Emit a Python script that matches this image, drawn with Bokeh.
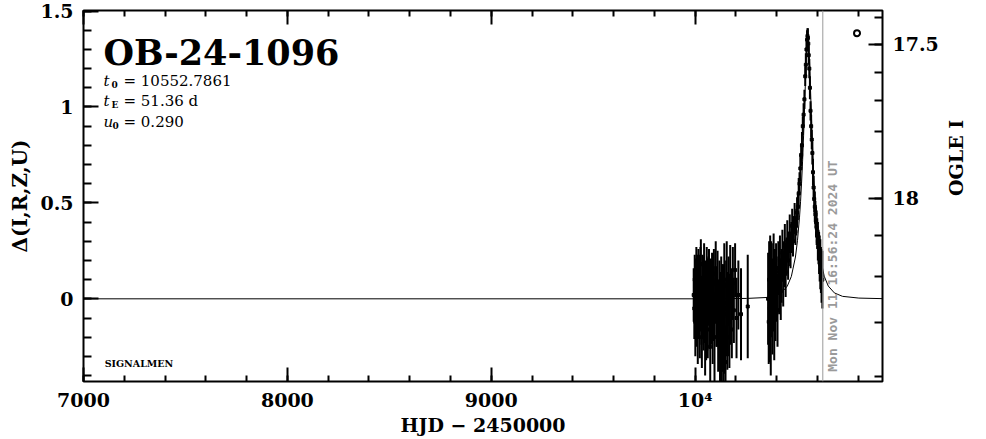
import math
from bokeh.plotting import figure
from bokeh.models import (ColumnDataSource, LinearAxis, FixedTicker, Label, Span,
                          Range1d, CustomJSTickFormatter)
from bokeh.embed import file_html
from bokeh.resources import INLINE

# ---------------- texts printed on the chart ----------------
EVENT = "OB-24-1096"
T0_TEXT = "10552.7861"
TE_TEXT = "51.36  d"
U0_TEXT = "0.290"
NOW_TEXT = "Mon Nov 11 16:56:24 2024 UT"
NOW_HJD = 10626.21
CREDIT = "SIGNALMEN"
X_TITLE = "HJD \u2212 2450000"
Y_TITLE = "\u0394(I,R,Z,U)"
R_TITLE = "OGLE I"

# ---------------- photometry (HJD-2450000, delta, error) ----------------
# season 2023
t1 = [9993, 9996, 9998, 10001, 10003, 10006, 10008, 10011, 10013, 10016,
      10018, 10021, 10023, 10026, 10028, 10031, 10033, 10036, 10039, 10041,
      10044, 10046, 10049, 10052, 10054, 10057, 10060, 10062, 10065, 10068,
      10071, 10074, 10077, 10080, 10083, 10086, 10089, 10092, 10095, 10098,
      10101, 10104, 10107, 10110, 10113, 10116, 10119, 10122, 10125, 10128,
      10131, 10134, 10137, 10140, 10143, 10146, 10149, 10152, 10155, 10158,
      10161, 10164, 10168, 10172, 10176, 10180, 10185, 10190, 10196, 10203,
      10212, 10225, 10258]
d1 = [0.02, -0.05, 0.10, -0.12, 0.06, 0.15, -0.08, 0.03, -0.18, 0.12,
      -0.02, 0.08, -0.14, 0.05, 0.18, -0.06, -0.20, 0.09, 0.01, -0.10,
      0.14, -0.04, -0.22, 0.07, -0.12, 0.11, -0.03, -0.16, 0.04, 0.12,
      -0.09, -0.25, 0.06, -0.02, 0.10, -0.15, -0.06, 0.08, -0.20, 0.02,
      0.13, -0.11, -0.04, 0.09, -0.18, -0.08, 0.05, -0.24, -0.12, 0.03,
      -0.30, -0.10, -0.02, -0.26, 0.07, -0.15, -0.33, -0.05, 0.10, -0.20,
      -0.08, 0.04, -0.12, 0.12, -0.04, -0.16, 0.08, -0.06, 0.15, -0.10,
      0.02, -0.08, -0.04]
e1 = [0.14, 0.16, 0.13, 0.18, 0.15, 0.12, 0.17, 0.20, 0.16, 0.14,
      0.19, 0.15, 0.17, 0.22, 0.13, 0.18, 0.16, 0.14, 0.21, 0.17,
      0.15, 0.19, 0.18, 0.13, 0.20, 0.16, 0.24, 0.15, 0.18, 0.14,
      0.17, 0.20, 0.15, 0.22, 0.14, 0.19, 0.16, 0.18, 0.23, 0.15,
      0.17, 0.14, 0.21, 0.16, 0.20, 0.18, 0.15, 0.22, 0.26, 0.19,
      0.16, 0.28, 0.20, 0.17, 0.22, 0.24, 0.18, 0.25, 0.20, 0.17,
      0.22, 0.18, 0.24, 0.16, 0.20, 0.15, 0.19, 0.17, 0.14, 0.21,
      0.18, 0.24, 0.27]

# season 2024, baseline and rise
t2 = [10358, 10361, 10363, 10366, 10368, 10371, 10373, 10376, 10379, 10382,
      10385, 10388, 10391, 10394, 10397, 10400, 10404, 10408, 10412, 10416,
      10420, 10424, 10428, 10432, 10436, 10440, 10444, 10448, 10452, 10456,
      10460, 10464, 10468, 10472, 10476, 10480, 10484, 10488, 10492, 10496]
d2 = [0.00, -0.12, 0.10, -0.05, 0.15, -0.18, 0.05, 0.12, -0.08, 0.02,
      0.18, -0.10, 0.08, -0.02, 0.14, 0.05, -0.06, 0.16, 0.08, 0.20,
      0.04, 0.12, 0.24, 0.10, 0.18, 0.28, 0.14, 0.22, 0.30, 0.20,
      0.26, 0.34, 0.25, 0.32, 0.38, 0.30, 0.36, 0.42, 0.35, 0.40]
e2 = [0.24, 0.22, 0.20, 0.28, 0.18, 0.22, 0.25, 0.17, 0.21, 0.19,
      0.16, 0.22, 0.18, 0.20, 0.15, 0.17, 0.19, 0.14, 0.16, 0.13,
      0.15, 0.14, 0.12, 0.14, 0.12, 0.11, 0.13, 0.10, 0.11, 0.10,
      0.09, 0.10, 0.09, 0.08, 0.09, 0.08, 0.07, 0.08, 0.07, 0.07]

# season 2024, peak and decline
t3 = [10500, 10504, 10508, 10512, 10516, 10520, 10524, 10528, 10532, 10536,
      10540, 10543, 10546, 10549, 10551, 10553, 10555, 10557, 10560, 10563,
      10566, 10569, 10572, 10575, 10578, 10581, 10584, 10587, 10590, 10593,
      10596, 10599, 10602, 10605, 10608, 10611, 10614, 10617, 10620, 10624]
d3 = [0.45, 0.48, 0.55, 0.60, 0.68, 0.75, 0.80, 0.90, 0.96, 1.04,
      1.16, 1.22, 1.30, 1.35, 1.37, 1.36, 1.33, 1.27, 1.20, 1.10,
      0.98, 0.90, 0.83, 0.76, 0.66, 0.58, 0.52, 0.48, 0.44, 0.40,
      0.37, 0.34, 0.30, 0.27, 0.24, 0.21, 0.18, 0.15, 0.12, 0.10]
e3 = [0.08, 0.07, 0.08, 0.06, 0.07, 0.06, 0.07, 0.05, 0.06, 0.05,
      0.05, 0.06, 0.04, 0.05, 0.04, 0.05, 0.04, 0.05, 0.05, 0.06,
      0.05, 0.06, 0.05, 0.06, 0.07, 0.06, 0.07, 0.08, 0.07, 0.08,
      0.09, 0.08, 0.10, 0.09, 0.11, 0.12, 0.13, 0.12, 0.14, 0.15]

# ---------------- model light curve ----------------
model_hjd = [7000, 10000, 10252, 10352, 10402, 10422, 10452, 10472, 10492, 10502,
             10512, 10517, 10522, 10527, 10532, 10537, 10542, 10547, 10552.8, 10558,
             10563, 10568, 10573, 10578, 10583, 10588, 10593, 10603, 10613, 10633,
             10653, 10683, 10723, 10803, 10919]
model_delta = [0.0, 0.0, 0.002, 0.007, 0.019, 0.030, 0.066, 0.117, 0.218, 0.303,
               0.426, 0.506, 0.603, 0.718, 0.852, 1.005, 1.164, 1.302, 1.378, 1.318,
               1.184, 1.024, 0.869, 0.732, 0.615, 0.516, 0.435, 0.309, 0.221, 0.118,
               0.0665, 0.0308, 0.0129, 0.0038, 0.0009]

# OGLE symbol in the corner
sym_hjd = [10794]
sym_delta = [1.385]

# ---------------- axes ----------------
x_major = [7000, 8000, 9000, 10000]
x_labels = {10000: "10\u2074"}
y_major = [0, 0.5, 1, 1.5]
ogle_major = [17.5, 18.0]
ogle_labels = ["17.5", "18"]
ogle_minor = [17.4, 17.5, 17.6, 17.7, 17.8, 17.9, 18.0, 18.1, 18.2, 18.3, 18.4]
I_BASE = 18.25
F_SOURCE = 0.416


def delta_of_mag(m):
    flux = 10 ** (-0.4 * (m - I_BASE))
    return 2.5 * math.log10(1 + (flux - 1) / F_SOURCE)


hjd = t1 + t2 + t3
dlt = d1 + d2 + d3
err = e1 + e2 + e3
src = ColumnDataSource(dict(
    t=hjd, d=dlt,
    lo=[a - b for a, b in zip(dlt, err)],
    hi=[a + b for a, b in zip(dlt, err)],
))

SERIF = "DejaVu Serif"

p = figure(width=986, height=439,
           x_range=Range1d(7000, 10919), y_range=Range1d(-0.431, 1.503),
           output_backend="svg", toolbar_location=None,
           min_border_left=83, min_border_right=104,
           min_border_top=10, min_border_bottom=58,
           background_fill_color="white", border_fill_color="white")
p.grid.visible = False
p.outline_line_color = "black"
p.outline_line_width = 2


def style_axis(ax, major_in, minor_in):
    ax.axis_line_color = None
    ax.major_tick_in = major_in
    ax.major_tick_out = 0
    ax.minor_tick_in = minor_in
    ax.minor_tick_out = 0
    ax.major_tick_line_width = 2
    ax.minor_tick_line_width = 2
    ax.major_tick_line_color = "black"
    ax.minor_tick_line_color = "black"
    ax.major_label_text_font = SERIF
    ax.major_label_text_font_style = "bold"
    ax.major_label_text_font_size = "19px"
    ax.major_label_text_color = "black"
    ax.axis_label_text_font = SERIF
    ax.axis_label_text_font_style = "bold"
    ax.axis_label_text_font_size = "19px"
    ax.axis_label_text_color = "black"


x_minor = list(range(7000, 10920, 200))
y_minor = [round(-0.4 + 0.1 * i, 1) for i in range(20)]

xb = p.xaxis[0]
xb.ticker = FixedTicker(ticks=x_major, minor_ticks=x_minor)
xb.major_label_overrides = x_labels
xb.axis_label = X_TITLE
style_axis(xb, 14, 6)
xb.major_label_standoff = 7
xb.axis_label_standoff = 0

yl = p.yaxis[0]
yl.ticker = FixedTicker(ticks=y_major, minor_ticks=y_minor)
yl.formatter = CustomJSTickFormatter(code="return String(Math.round(tick * 10) / 10);")
yl.axis_label = Y_TITLE
style_axis(yl, 15, 8)
yl.axis_label_text_font_size = "20px"
yl.major_label_standoff = 10
yl.axis_label_standoff = 5

xt = LinearAxis(ticker=FixedTicker(ticks=x_major, minor_ticks=x_minor),
                formatter=CustomJSTickFormatter(code="return '';"))
style_axis(xt, 14, 6)
xt.major_label_standoff = 0
xt.major_label_text_font_size = "1px"
p.add_layout(xt, "above")

major_pos = [delta_of_mag(m) for m in ogle_major]
minor_pos = [delta_of_mag(m) for m in ogle_minor]
yr = LinearAxis(ticker=FixedTicker(ticks=major_pos, minor_ticks=minor_pos),
                formatter=CustomJSTickFormatter(args=dict(pos=major_pos, labs=ogle_labels), code="""
let k = 0;
for (let i = 0; i < pos.length; i++) {
  if (Math.abs(pos[i] - tick) < Math.abs(pos[k] - tick)) { k = i; }
}
return labs[k];
"""))
yr.axis_label = R_TITLE
style_axis(yr, 14, 8)
yr.major_label_standoff = 10
yr.axis_label_standoff = 14
yr.axis_label_orientation = math.pi / 2
p.add_layout(yr, "right")

# ---------------- data ----------------
p.line(model_hjd, model_delta, line_color="black", line_width=1)
p.segment(x0="t", y0="lo", x1="t", y1="hi", source=src, line_color="black", line_width=2)
p.scatter("t", "d", source=src, marker="square", size=3, color="black")
p.scatter(sym_hjd, sym_delta, marker="circle", size=6, fill_color="white",
          line_color="black", line_width=2)

# ---------------- annotations ----------------
p.add_layout(Span(location=NOW_HJD, dimension="height", line_color="#9a9a9a", line_width=1))
p.add_layout(Label(x=NOW_HJD, y=-0.38, text=NOW_TEXT, angle=math.pi / 2,
                   text_font="DejaVu Sans Mono", text_font_style="bold",
                   text_font_size="13px", text_color="#9a9a9a",
                   text_baseline="top", text_align="left", x_offset=2))

p.add_layout(Label(x=7098, y=1.282, text=EVENT, text_font=SERIF, text_font_style="bold",
                   text_font_size="35px", text_color="black", text_baseline="alphabetic"))

rows = [("t", "0", 8, T0_TEXT, 1.138), ("t", "E", 8, TE_TEXT, 1.031), ("u", "0", 9, U0_TEXT, 0.923)]
for sym, sub, subx, txt, yy in rows:
    p.add_layout(Label(x=7098, y=yy, text=sym, text_font=SERIF, text_font_style="italic",
                       text_font_size="15px", text_color="black", text_baseline="alphabetic"))
    p.add_layout(Label(x=7098, y=yy, x_offset=subx, y_offset=-4, text=sub, text_font=SERIF,
                       text_font_size="9px", text_font_style="bold", text_color="black",
                       text_baseline="alphabetic"))
    p.add_layout(Label(x=7098, y=yy, x_offset=20, text="=  " + txt, text_font=SERIF,
                       text_font_size="15px", text_color="black", text_baseline="alphabetic"))

p.add_layout(Label(x=7104, y=-0.338, text=CREDIT, text_font=SERIF, text_font_style="bold",
                   text_font_size="9.5px", text_color="black", text_baseline="alphabetic"))

open("out.html", "w").write(file_html(p, INLINE))
